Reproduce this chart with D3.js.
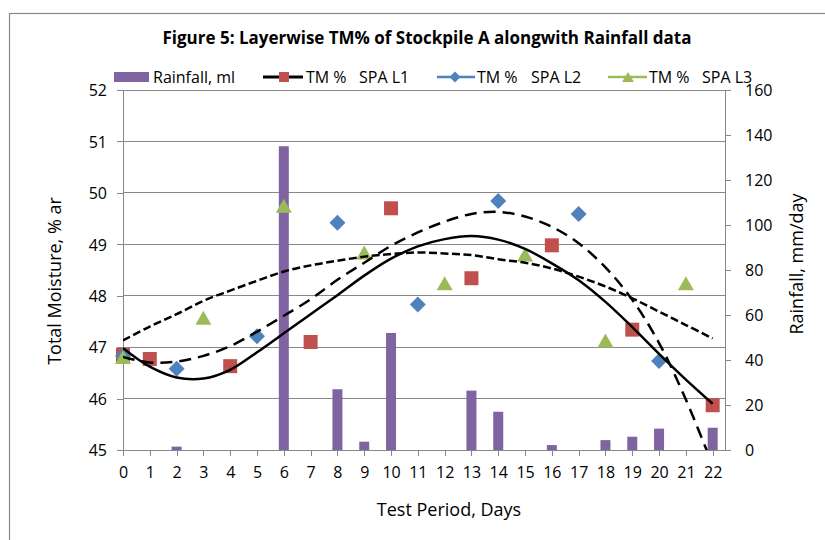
<!DOCTYPE html>
<html><head><meta charset="utf-8">
<script src="https://cdn.jsdelivr.net/npm/d3@7/dist/d3.min.js"></script>
<style>
body{margin:0;background:#fff}
text{font-family:"Open Sans",sans-serif;fill:#000}
</style>
</head><body>
<svg id="chart" width="825" height="540"></svg>
<script>
// ---- data ----
const dayLabels = ["0","1","2","3","4","5","6","7","8","9","10","11","12","13","14","15","16","17","18","19","20","21","22"];
const leftTicks = [45,46,47,48,49,50,51,52];
const rightTicks = [0,20,40,60,80,100,120,140,160];

const rainDays = [2,6,8,9,10,13,14,16,18,19,20,22];
const rainfall = [1.5,135,27,3.7,52,26.4,17,2.2,4.4,5.9,9.5,9.9];

const l1Days = [0,1,4,7,10,13,16,19,22];
const l1Vals = [46.85,46.77,46.63,47.10,49.70,48.34,48.98,47.34,45.87];
const l2Days = [0,2,5,8,11,14,17,20];
const l2Vals = [46.83,46.58,47.21,49.42,47.83,49.84,49.59,46.73];
const l3Days = [0,3,6,9,12,15,18,21];
const l3Vals = [46.81,47.57,49.75,48.84,48.24,48.80,47.13,48.24];

// trendlines at each day
const trendDays = [0,1,2,3,4,5,6,7,8,9,10,11,12,13,14,15,16,17,18,19,20,21,22];
const trendL1 = [46.98,46.62,46.41,46.39,46.56,46.90,47.27,47.64,48.01,48.39,48.72,48.96,49.10,49.16,49.09,48.91,48.63,48.30,47.88,47.39,46.87,46.37,45.90];
const trendL2 = [46.81,46.70,46.72,46.83,47.02,47.30,47.61,47.93,48.31,48.64,48.97,49.23,49.44,49.59,49.63,49.54,49.34,49.02,48.55,47.92,47.08,45.98,44.70];
const trendL3 = [47.13,47.40,47.64,47.90,48.10,48.29,48.47,48.59,48.68,48.76,48.81,48.84,48.82,48.79,48.71,48.64,48.53,48.37,48.18,47.95,47.69,47.43,47.17];

const titleText = "Figure 5: Layerwise TM% of Stockpile A alongwith Rainfall data";
const xTitle = "Test Period, Days";
const yTitle = "Total Moisture, % ar";
const y2Title = "Rainfall, mm/day";

// ---- layout ----
const L = 123, R = 725, T = 90, B = 450;
const purple = "#8064A2", red = "#C0504D", blue = "#4F81BD", green = "#9BBB59", grid = "#878787";

const svg = d3.select("#chart");
svg.append("rect").attr("x",9.5).attr("y",13.5).attr("width",900).attr("height",600)
  .attr("fill","#fff").attr("stroke","#8a8a8a").attr("stroke-width",1.2);

const x = d3.scaleLinear().domain([0, 22.46]).range([L, R]);
const yL = d3.scaleLinear().domain([45, 52]).range([B, T]);
const yR = d3.scaleLinear().domain([0, 160]).range([B, T]);

// gridlines
svg.append("g").selectAll("line").data(leftTicks.slice(1)).join("line")
  .attr("x1",L).attr("x2",R).attr("y1",d=>yL(d)).attr("y2",d=>yL(d))
  .attr("stroke",grid).attr("stroke-width",1).attr("shape-rendering","crispEdges");

// axes
function styleAxis(g){
  g.select(".domain").attr("stroke",grid).attr("shape-rendering","crispEdges");
  g.selectAll(".tick line").attr("stroke",grid).attr("shape-rendering","crispEdges");
  g.selectAll("text").attr("font-family","Open Sans, sans-serif").attr("font-size",16).attr("fill","#000");
}
const axL = svg.append("g").attr("transform",`translate(${L},0)`)
  .call(d3.axisLeft(yL).tickValues(leftTicks).tickFormat(d=>String(d)).tickSize(6).tickPadding(10).tickSizeOuter(0));
styleAxis(axL);
axL.selectAll("text").attr("dy","0.36em");

const axR = svg.append("g").attr("transform",`translate(${R},0)`)
  .call(d3.axisRight(yR).tickValues(rightTicks).tickFormat(d=>String(d)).tickSize(6).tickPadding(14).tickSizeOuter(0));
styleAxis(axR);
axR.selectAll("text").attr("dy","0.36em");

const axB = svg.append("g").attr("transform",`translate(0,${B})`)
  .call(d3.axisBottom(x).tickValues(trendDays).tickFormat((d,i)=>dayLabels[i]).tickSize(6).tickSizeOuter(0));
styleAxis(axB);
axB.selectAll("text").attr("y",27.5).attr("dy","0");

// bars
const bw = 10;
svg.append("g").selectAll("rect").data(rainDays).join("rect")
  .attr("x",(d)=>x(d)-bw/2).attr("width",bw)
  .attr("y",(d,i)=>yR(rainfall[i])).attr("height",(d,i)=>yR(0)-yR(rainfall[i]))
  .attr("fill",purple);

// markers
const sq = s => `M${-s/2},${-s/2}h${s}v${s}h${-s}Z`;
const dia = s => `M0,${-s/2}L${s/2},0L0,${s/2}L${-s/2},0Z`;
const tri = (w,h) => `M0,${-h/2}L${w/2},${h/2}L${-w/2},${h/2}Z`;

svg.append("g").selectAll("path").data(l1Days).join("path")
  .attr("transform",(d,i)=>`translate(${x(d)},${yL(l1Vals[i])})`).attr("d",sq(14)).attr("fill",red);
svg.append("g").selectAll("path").data(l2Days).join("path")
  .attr("transform",(d,i)=>`translate(${x(d)},${yL(l2Vals[i])})`).attr("d",dia(16)).attr("fill",blue);
svg.append("g").selectAll("path").data(l3Days).join("path")
  .attr("transform",(d,i)=>`translate(${x(d)},${yL(l3Vals[i])})`).attr("d",tri(16,14)).attr("fill",green);

// trendlines
svg.append("clipPath").attr("id","plotclip").append("rect")
  .attr("x",L).attr("y",T).attr("width",R-L).attr("height",B-T);
const line = d3.line().x((d,i)=>x(trendDays[i])).y(d=>yL(d)).curve(d3.curveCatmullRom.alpha(0.5));
const tg = svg.append("g").attr("clip-path","url(#plotclip)");
tg.append("path").attr("d",line(trendL3)).attr("fill","none").attr("stroke","#000").attr("stroke-width",2.5).attr("stroke-dasharray","8,3.5");
tg.append("path").attr("d",line(trendL2)).attr("fill","none").attr("stroke","#000").attr("stroke-width",2.5).attr("stroke-dasharray","12,7");
tg.append("path").attr("d",line(trendL1)).attr("fill","none").attr("stroke","#000").attr("stroke-width",2.5);

// title
svg.append("text").attr("x",427).attr("y",44).attr("text-anchor","middle")
  .attr("font-size",17).attr("font-weight","bold").attr("textLength",529).attr("lengthAdjust","spacingAndGlyphs")
  .text(titleText);

// axis titles
svg.append("text").attr("x",449).attr("y",516).attr("text-anchor","middle").attr("font-size",18).text(xTitle);
svg.append("text").attr("transform","translate(61,281) rotate(-90)").attr("text-anchor","middle").attr("font-size",18).text(yTitle);
svg.append("text").attr("transform","translate(803,264) rotate(-90)").attr("text-anchor","middle").attr("font-size",18).text(y2Title);

// legend
const ly = 77, lfs = 16;
const lg = svg.append("g");
lg.append("rect").attr("x",114).attr("y",72).attr("width",35).attr("height",10).attr("fill",purple);
lg.append("text").attr("x",153).attr("y",ly+5.5).attr("font-size",lfs).text("Rainfall, ml");
const legItems = [
  {x1:263,x2:303,mx:284,color:"#000",mcolor:red,shape:sq(10),tx:306,sx:359,lab:"SPA L1",w:3},
  {x1:437,x2:475,mx:455,color:blue,mcolor:blue,shape:dia(11),tx:477,sx:531,lab:"SPA L2",w:2.5},
  {x1:608,x2:647,mx:628,color:green,mcolor:green,shape:tri(12,10),tx:649,sx:702,lab:"SPA L3",w:2.5}
];
legItems.forEach(it=>{
  lg.append("line").attr("x1",it.x1).attr("x2",it.x2).attr("y1",ly).attr("y2",ly).attr("stroke",it.color).attr("stroke-width",it.w);
  lg.append("path").attr("transform",`translate(${it.mx},${ly})`).attr("d",it.shape).attr("fill",it.mcolor);
  lg.append("text").attr("x",it.tx).attr("y",ly+5.5).attr("font-size",lfs).text("TM %");
  lg.append("text").attr("x",it.sx).attr("y",ly+5.5).attr("font-size",lfs).text(it.lab);
});
</script>
</body></html>
